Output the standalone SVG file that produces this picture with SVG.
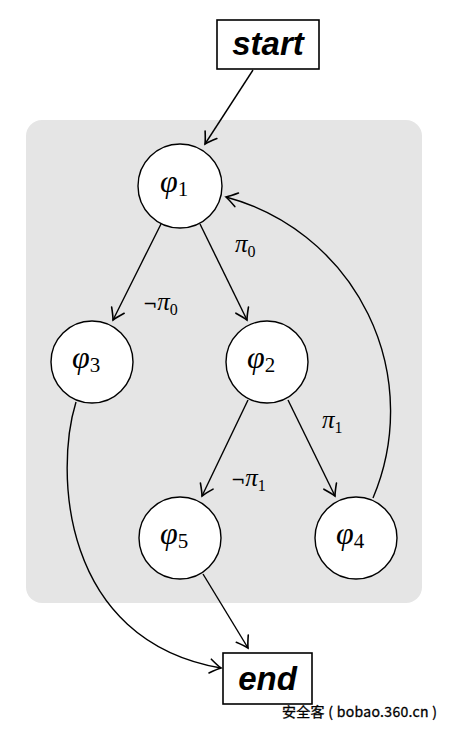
<svg xmlns="http://www.w3.org/2000/svg" width="452" height="730" viewBox="0 0 452 730">
<style>
.edge{fill:none;stroke:#000;stroke-width:1.4}
.node circle{fill:#fff;stroke:#000;stroke-width:1.4}
.box rect{fill:#fff;stroke:#000;stroke-width:1.6}
.m{font-family:"Liberation Serif",serif;font-style:italic;font-size:32px}
.sub{font-family:"Liberation Serif",serif;font-style:normal;font-size:21px}
.lbl{font-family:"Liberation Serif",serif;font-style:italic;font-size:25px}
.neg{font-family:"DejaVu Sans",sans-serif;font-style:normal;font-size:17px}
.lsub{font-family:"Liberation Serif",serif;font-style:normal;font-size:16px}
.kw{font-family:"Liberation Sans",Arial,sans-serif;font-weight:bold;font-style:italic;font-size:33px}
</style>
<defs>
<marker id="arr" markerUnits="userSpaceOnUse" markerWidth="20" markerHeight="20" viewBox="-14 -10 20 20" refX="0" refY="0" orient="auto">
<path d="M-11,-7 Q-4,-2 0,0 Q-4,2 -11,7" fill="none" stroke="#000" stroke-width="1.6" stroke-linecap="round"/>
</marker>
</defs>
<rect x="26" y="120" width="396" height="483" rx="16" ry="16" fill="#e5e5e5"/>
<g id="connectors">
<path class="edge" d="M253,70 L205,144" marker-end="url(#arr)"/>
<path class="edge" d="M161,224 L113,320" marker-end="url(#arr)"/>
<path class="edge" d="M200,224 L247,320" marker-end="url(#arr)"/>
<path class="edge" d="M248,400 L202,496" marker-end="url(#arr)"/>
<path class="edge" d="M288,400 L335,496" marker-end="url(#arr)"/>
<path class="edge" d="M373,498 A222,222 0 0 0 226,197" marker-end="url(#arr)"/>
<path class="edge" d="M76,402 C55,470 60,640 221,668" marker-end="url(#arr)"/>
<path class="edge" d="M203,574 L248,648" marker-end="url(#arr)"/>
<text x="235" y="252" class="lbl">π<tspan class="lsub" dy="5">0</tspan></text>
<text x="143" y="310" class="lbl"><tspan class="neg">¬</tspan>π<tspan class="lsub" dy="5">0</tspan></text>
<text x="322" y="428" class="lbl">π<tspan class="lsub" dy="5">1</tspan></text>
<text x="231" y="486" class="lbl"><tspan class="neg">¬</tspan>π<tspan class="lsub" dy="5">1</tspan></text>
</g>
<g id="start" class="box"><rect x="217" y="20" width="102" height="49"/><text x="268" y="55" text-anchor="middle" class="kw">start</text></g>
<g id="end" class="box"><rect x="223" y="653" width="89" height="51"/><text x="267.5" y="690" text-anchor="middle" class="kw">end</text></g>
<g id="phi1" class="node"><circle cx="180" cy="186" r="42"/><text x="160" y="192" class="m">φ<tspan class="sub" dy="4">1</tspan></text></g>
<g id="phi3" class="node"><circle cx="92" cy="362" r="41"/><text x="72" y="368" class="m">φ<tspan class="sub" dy="4">3</tspan></text></g>
<g id="phi2" class="node"><circle cx="267" cy="362" r="41"/><text x="247" y="368" class="m">φ<tspan class="sub" dy="4">2</tspan></text></g>
<g id="phi5" class="node"><circle cx="180" cy="538" r="41"/><text x="160" y="544" class="m">φ<tspan class="sub" dy="4">5</tspan></text></g>
<g id="phi4" class="node"><circle cx="356" cy="538" r="41"/><text x="336" y="544" class="m">φ<tspan class="sub" dy="4">4</tspan></text></g>
<text x="282" y="717" font-family="'Noto Sans CJK SC','Liberation Sans',sans-serif" font-size="14" fill="#000" stroke="#000" stroke-width="0.3" textLength="155">安全客 ( bobao.360.cn )</text>
</svg>
